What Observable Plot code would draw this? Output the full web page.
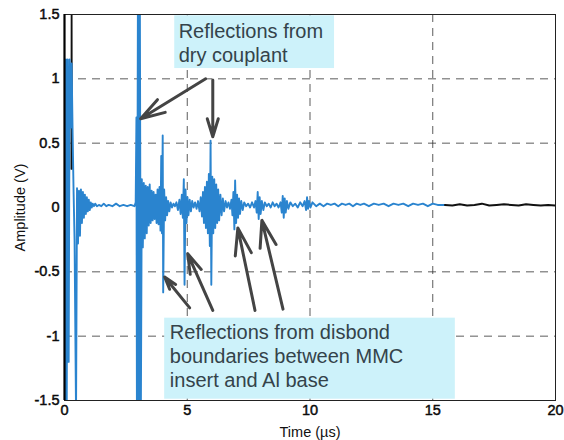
<!DOCTYPE html>
<html>
<head>
<meta charset="utf-8">
<script src="https://cdn.jsdelivr.net/npm/d3@7"></script>
<script src="https://cdn.jsdelivr.net/npm/@observablehq/plot@0.6"></script>
<style>
  html, body { margin: 0; padding: 0; background: #fff; }
  #chart svg { display: block; }
  #chart svg g[aria-label="x-axis tick label"] text,
  #chart svg g[aria-label="y-axis tick label"] text { stroke: #000; stroke-width: 0.45px; }
</style>
</head>
<body>
<div id="chart"></div>
<script>
// ---- Data ----
const xTicks = [0, 5, 10, 15, 20];
const xTickLabels = ["0", "5", "10", "15", "20"];
const yTicks = [-1.5, -1, -0.5, 0, 0.5, 1, 1.5];
const yTickLabels = ["-1.5", "-1", "-0.5", "0", "0.5", "1", "1.5"];
const gridX = [5, 10, 15];
const gridY = [-1, -0.5, 0.5, 1];

// Blue (recorded) waveform, time in µs, amplitude in V
const waveTime = [
  0.00, 0.02, 0.06, 0.09, 0.13, 0.17, 0.21, 0.25, 0.29, 0.33, 0.37, 0.41, 0.47, 0.51, 0.55, 0.59,
  0.63, 0.67, 0.71, 0.75, 0.79, 0.83, 0.87, 0.91, 0.95, 0.99, 1.03, 1.07, 1.11, 1.15, 1.20, 1.25,
  1.32, 1.40, 1.50, 1.60, 1.70, 1.80, 1.95, 2.10, 2.25, 2.40, 2.55, 2.70, 2.85,
  2.90, 2.93, 2.95, 2.99, 3.03, 3.07, 3.11, 3.15, 3.19, 3.23, 3.27, 3.31, 3.35, 3.39, 3.43, 3.47,
  3.51, 3.55, 3.59, 3.63, 3.67, 3.71, 3.75, 3.79, 3.83, 3.87, 3.91, 3.94, 3.97, 4.00, 4.02, 4.06,
  4.10, 4.14, 4.18, 4.22, 4.27, 4.32, 4.38, 4.44,
  4.50, 4.56, 4.62, 4.68, 4.73, 4.78, 4.82, 4.86, 4.89, 4.93, 4.97, 5.01, 5.05, 5.10, 5.15, 5.20,
  5.26, 5.32, 5.38, 5.44, 5.50, 5.55, 5.60, 5.64, 5.68, 5.72, 5.76, 5.80, 5.84, 5.88, 5.92, 5.95,
  5.98, 6.02, 6.06, 6.10, 6.14, 6.18, 6.22, 6.26, 6.30, 6.35, 6.40, 6.45, 6.50, 6.56, 6.62, 6.68,
  6.74, 6.80, 6.84, 6.88, 6.92, 6.95, 6.99, 7.03, 7.07, 7.11, 7.15, 7.20, 7.26, 7.32, 7.40, 7.48,
  7.56, 7.64, 7.72, 7.78, 7.83, 7.87, 7.91, 7.95, 7.99, 8.04, 8.10, 8.16, 8.24, 8.32, 8.40, 8.48,
  8.56, 8.64, 8.72, 8.80, 8.85, 8.89, 8.93, 8.97, 9.01, 9.06, 9.12, 9.20, 9.30, 9.40, 9.50, 9.60,
  9.70, 9.78, 9.84, 9.88, 9.92, 9.96, 10.02, 10.10, 10.25, 10.40, 10.55, 10.70, 10.85, 11.00, 11.15, 11.30,
  11.45, 11.60, 11.75, 11.90, 12.05, 12.20, 12.40, 12.60, 12.80, 13.00, 13.20, 13.40, 13.60, 13.80, 14.00, 14.20,
  14.40, 14.60, 14.80, 15.00, 15.20, 15.50
];
const waveAmp = [
  0.00, -1.60, 1.15, -1.60, 1.15, -1.20, 1.15, 0.62, 1.12, 0.58, 0.12, -0.25, -1.60, 0.15, -0.28, 0.13,
  -0.22, 0.14, -0.12, 0.12, -0.08, 0.10, -0.05, 0.08, -0.03, 0.06, -0.02, 0.04, 0.00, 0.03, 0.01, 0.03,
  0.01, 0.02, 0.01, 0.03, 0.01, 0.02, 0.01, 0.03, 0.01, 0.02, 0.01, 0.02, 0.01,
  0.04, 0.70, -1.60, 1.60, -1.60, 1.60, -1.60, 0.22, -0.31, 0.19, -0.24, 0.17, -0.20, 0.16, -0.14, 0.18,
  -0.12, 0.13, -0.10, 0.12, -0.09, 0.10, -0.12, 0.14, -0.13, 0.16, -0.18, 0.40, -0.20, 0.56, -0.66, 0.14,
  -0.10, 0.08, -0.06, 0.05, -0.03, 0.04, 0.00, 0.03,
  0.01, 0.04, -0.02, 0.06, -0.05, 0.10, -0.08, 0.22, -0.60, 0.14, -0.12, 0.08, -0.06, 0.06, -0.03, 0.05,
  0.00, 0.04, -0.01, 0.05, -0.03, 0.08, -0.07, 0.12, -0.12, 0.16, -0.16, 0.20, -0.20, 0.26, -0.30, 0.52,
  -0.60, 0.24, -0.20, 0.22, -0.16, 0.18, -0.12, 0.14, -0.10, 0.10, -0.06, 0.07, -0.03, 0.05, 0.00, 0.04,
  -0.01, 0.06, -0.06, 0.12, -0.17, 0.21, -0.12, 0.10, -0.08, 0.07, -0.05, 0.05, -0.02, 0.04, 0.01, 0.03,
  0.00, 0.04, 0.00, 0.05, -0.04, 0.12, -0.09, 0.08, -0.05, 0.05, -0.02, 0.04, 0.01, 0.03, 0.00, 0.04,
  0.01, 0.03, 0.00, 0.04, -0.04, 0.09, -0.08, 0.07, -0.04, 0.05, -0.01, 0.04, 0.01, 0.03, 0.00, 0.04,
  0.01, 0.05, -0.02, 0.08, -0.01, 0.05, 0.00, 0.04, 0.01, 0.03, 0.01, 0.03, 0.02, 0.03, 0.01, 0.03,
  0.02, 0.03, 0.01, 0.03, 0.02, 0.03, 0.01, 0.03, 0.02, 0.03, 0.01, 0.03, 0.02, 0.03, 0.01, 0.03,
  0.02, 0.03, 0.01, 0.03, 0.02, 0.02
];

// Black trace visible beyond the blue overlay
const tailTime = [15.5, 15.8, 16.1, 16.4, 16.7, 17.0, 17.3, 17.6, 17.9, 18.2, 18.5, 18.8, 19.1, 19.4, 19.7, 20.0];
const tailAmp  = [0.02, 0.015, 0.025, 0.015, 0.02, 0.03, 0.015, 0.02, 0.025, 0.02, 0.015, 0.025, 0.02, 0.015, 0.02, 0.015];
const pulseTime = [0.28, 0.29, 0.30];
const pulseAmp  = [0.30, 1.60, 0.30];

// Annotations (data units)
const labelText = ["Reflections from\ndry couplant", "Reflections from disbond\nboundaries between MMC\ninsert and Al base"];
const labelX = [4.65, 4.29];
const labelY = [1.28, -1.147];
const boxX1 = [4.49, 4.08];
const boxX2 = [11.0, 15.92];
const boxY1 = [1.49, -0.86];
const boxY2 = [1.08, -1.49];
const arrowX1 = [5.75, 6.04, 5.10, 6.04, 7.76, 8.90];
const arrowY1 = [1.00, 0.99, -0.78, -0.80, -0.80, -0.79];
const arrowX2 = [3.10, 6.04, 4.08, 5.02, 7.06, 8.04];
const arrowY2 = [0.69, 0.55, -0.54, -0.36, -0.16, -0.10];

const wave = waveTime.map((t, i) => ({t, v: waveAmp[i]}));
const tail = tailTime.map((t, i) => ({t, v: tailAmp[i]}));
const pulse = pulseTime.map((t, i) => ({t, v: pulseAmp[i]}));
const labels = labelText.map((s, i) => ({s, x: labelX[i], y: labelY[i]}));
const boxes = boxX1.map((x1, i) => ({x1, x2: boxX2[i], y1: boxY1[i], y2: boxY2[i]}));
const arrows = arrowX1.map((x1, i) => ({x1, y1: arrowY1[i], x2: arrowX2[i], y2: arrowY2[i]}));

const chart = Plot.plot({
  width: 564,
  height: 440,
  marginLeft: 64,
  marginRight: 9,
  marginTop: 14,
  marginBottom: 40,
  style: {fontFamily: "'Liberation Sans', Arial, Helvetica, sans-serif", background: "#fff", color: "#111"},
  x: {domain: [0, 20]},
  y: {domain: [-1.5, 1.5]},
  marks: [
    Plot.ruleX(gridX, {stroke: "#333", strokeDasharray: "8,6", strokeOpacity: 0.8}),
    Plot.ruleY(gridY, {stroke: "#333", strokeDasharray: "8,6", strokeOpacity: 0.8}),
    Plot.rect(boxes, {x1: "x1", x2: "x2", y1: "y1", y2: "y2", fill: "#cdf2fa"}),
    Plot.line(pulse, {x: "t", y: "v", stroke: "#111", strokeWidth: 1.8, clip: true}),
    Plot.line(wave, {x: "t", y: "v", stroke: "#2a84cf", strokeWidth: 1.9, clip: true}),
    Plot.line(tail, {x: "t", y: "v", stroke: "#111", strokeWidth: 2, clip: true}),
    Plot.arrow(arrows, {x1: "x1", y1: "y1", x2: "x2", y2: "y2", stroke: "#444", strokeWidth: 3, headLength: 14, headAngle: 34}),
    Plot.text(labels, {x: "x", y: "y", text: "s", textAnchor: "start", lineAnchor: "middle", lineHeight: 1.2, fontSize: 20, fill: "#34434a"}),
    Plot.frame({stroke: "#222"}),
    Plot.ruleX([0], {stroke: "#000", strokeWidth: 2.2}),
    Plot.axisX(xTicks, {tickSize: 0, tickPadding: 4, fontSize: 14.5, tickFormat: (d, i) => xTickLabels[i],
      label: "Time (µs)", labelAnchor: "center", labelArrow: false, labelOffset: 36}),
    Plot.axisY(yTicks, {tickSize: 0, tickPadding: 5, fontSize: 14.5, tickFormat: (d, i) => yTickLabels[i],
      label: "Amplitude (V)", labelAnchor: "center", labelArrow: false, labelOffset: 50})
  ]
});
document.getElementById("chart").appendChild(chart);
</script>
</body>
</html>
